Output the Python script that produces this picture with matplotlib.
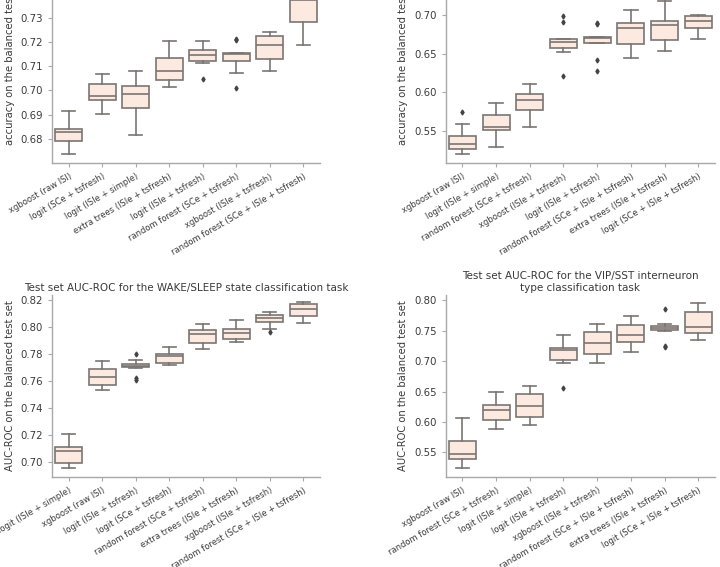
import matplotlib
matplotlib.use('Agg')
import numpy as np
import matplotlib.pyplot as plt

plt.rcParams['font.family'] = 'DejaVu Sans'
plt.rcParams['font.size'] = 7

# ---- top left: accuracy (task title cut off) ----
tl_labels = ['xgboost (raw ISI)', 'logit (SCe + tsfresh)', 'logit (ISIe + simple)',
             'extra trees (ISIe + tsfresh)', 'logit (ISIe + tsfresh)',
             'random forest (SCe + tsfresh)', 'xgboost (ISIe + tsfresh)',
             'random forest (SCe + ISIe + tsfresh)']
tl_lo = [0.6738, 0.6902, 0.6817, 0.7015, 0.7111, 0.7073, 0.7080, 0.7186]
tl_q1 = [0.6789, 0.6960, 0.6929, 0.7044, 0.7120, 0.7122, 0.7128, 0.7283]
tl_med = [0.6829, 0.6978, 0.6985, 0.7080, 0.7146, 0.7151, 0.7186, 0.7372]
tl_q3 = [0.6841, 0.7025, 0.7018, 0.7135, 0.7165, 0.7155, 0.7224, 0.7430]
tl_hi = [0.6914, 0.7066, 0.7078, 0.7205, 0.7202, 0.7155, 0.7241, 0.7510]
tl_fliers = [[], [], [], [], [0.7045], [0.7213, 0.7209, 0.7008], [], []]

# ---- top right: accuracy (task title cut off) ----
tr_labels = ['xgboost (raw ISI)', 'logit (ISIe + simple)', 'random forest (SCe + tsfresh)',
             'xgboost (ISIe + tsfresh)', 'logit (ISIe + tsfresh)',
             'random forest (SCe + ISIe + tsfresh)', 'extra trees (ISIe + tsfresh)',
             'logit (SCe + ISIe + tsfresh)']
tr_lo = [0.5202, 0.5297, 0.5557, 0.6529, 0.6637, 0.6443, 0.6542, 0.6693]
tr_q1 = [0.5267, 0.5513, 0.5773, 0.6572, 0.6646, 0.6624, 0.6680, 0.6831]
tr_med = [0.5332, 0.5557, 0.5898, 0.6659, 0.6702, 0.6840, 0.6875, 0.6931]
tr_q3 = [0.5436, 0.5708, 0.5980, 0.6693, 0.6719, 0.6905, 0.6931, 0.6996]
tr_hi = [0.5591, 0.5868, 0.6105, 0.6693, 0.6719, 0.7069, 0.7185, 0.7004]
tr_fliers = [[0.5751], [], [], [0.6991, 0.6918, 0.6213], [0.6905, 0.6883, 0.6421, 0.6283],
             [], [], []]

# ---- bottom left: AUC-ROC WAKE/SLEEP ----
bl_labels = ['logit (ISIe + simple)', 'xgboost (raw ISI)', 'logit (ISIe + tsfresh)',
             'logit (SCe + tsfresh)', 'random forest (SCe + tsfresh)',
             'extra trees (ISIe + tsfresh)', 'xgboost (ISIe + tsfresh)',
             'random forest (SCe + ISIe + tsfresh)']
bl_lo = [0.6951, 0.7531, 0.7694, 0.7716, 0.7840, 0.7891, 0.7990, 0.8032]
bl_q1 = [0.6993, 0.7573, 0.7704, 0.7738, 0.7884, 0.7914, 0.8040, 0.8081]
bl_med = [0.7080, 0.7632, 0.7711, 0.7785, 0.7951, 0.7958, 0.8069, 0.8138]
bl_q3 = [0.7110, 0.7691, 0.7728, 0.7798, 0.7978, 0.7988, 0.8089, 0.8173]
bl_hi = [0.7207, 0.7746, 0.7760, 0.7854, 0.8025, 0.8057, 0.8114, 0.8188]
bl_fliers = [[], [], [0.7805, 0.7625, 0.7605], [], [], [], [0.7965], []]

# ---- bottom right: AUC-ROC VIP/SST ----
br_labels = ['xgboost (raw ISI)', 'random forest (SCe + tsfresh)', 'logit (ISIe + simple)',
             'logit (ISIe + tsfresh)', 'xgboost (ISIe + tsfresh)',
             'random forest (SCe + ISIe + tsfresh)', 'extra trees (ISIe + tsfresh)',
             'logit (SCe + ISIe + tsfresh)']
br_lo = [0.5237, 0.5890, 0.5956, 0.6964, 0.6975, 0.7156, 0.7500, 0.7353]
br_q1 = [0.5395, 0.6038, 0.6088, 0.7019, 0.7123, 0.7310, 0.7512, 0.7463]
br_med = [0.5474, 0.6203, 0.6258, 0.7178, 0.7293, 0.7425, 0.7545, 0.7562]
br_q3 = [0.5684, 0.6274, 0.6460, 0.7216, 0.7474, 0.7600, 0.7584, 0.7803]
br_hi = [0.6066, 0.6488, 0.6597, 0.7436, 0.7611, 0.7742, 0.7611, 0.7951]
br_fliers = [[], [], [], [0.6559], [], [], [0.7863, 0.7233, 0.7255], []]

fill = '#fce9df'
edge = '#7a7573'
spine_col = '#a8a8a8'
text_col = '#3a3a3a'


def draw(ax, labels, lo, q1, med, q3, hi, fliers, ylim, ylabel, title=None):
    stats = []
    for i in range(len(labels)):
        stats.append({'whislo': lo[i], 'q1': q1[i], 'med': med[i], 'q3': q3[i],
                      'whishi': hi[i], 'fliers': np.array(fliers[i])})
    ax.bxp(stats, positions=range(len(labels)), widths=0.8, capwidths=0.4,
           patch_artist=True, showfliers=True,
           boxprops=dict(facecolor=fill, edgecolor=edge, linewidth=1.2),
           medianprops=dict(color=edge, linewidth=1.2),
           whiskerprops=dict(color=edge, linewidth=1.2),
           capprops=dict(color=edge, linewidth=1.2),
           flierprops=dict(marker='d', markersize=2.5, markerfacecolor='#444444',
                           markeredgecolor='#444444'))
    ax.set_xlim(-0.5, len(labels) - 0.5)
    ax.set_ylim(*ylim)
    ax.set_xticks(range(len(labels)))
    ax.tick_params(colors=spine_col, length=3, width=0.8)
    ax.set_xticklabels(labels, rotation=30, ha='right', rotation_mode='anchor',
                       fontsize=6.0, color=text_col)
    ax.tick_params(axis='y', labelsize=7.3, labelcolor=text_col)
    ax.set_ylabel(ylabel, fontsize=7.2, color=text_col)
    for s in ['top', 'right']:
        ax.spines[s].set_visible(False)
    for s in ['left', 'bottom']:
        ax.spines[s].set_color(spine_col)
        ax.spines[s].set_linewidth(1.0)
    if title:
        ax.set_title(title, fontsize=7.5, color=text_col, pad=3)


fig = plt.figure(figsize=(7.2, 5.67), dpi=100)

ax1 = fig.add_axes([0.0722, 0.7125, 0.3722, 0.3633])
draw(ax1, tl_labels, tl_lo, tl_q1, tl_med, tl_q3, tl_hi, tl_fliers,
     (0.670, 0.755), 'accuracy on the balanced test set')
ax1.set_yticks([0.68, 0.69, 0.70, 0.71, 0.72, 0.73, 0.74, 0.75])

ax2 = fig.add_axes([0.6188, 0.7125, 0.3743, 0.3633])
draw(ax2, tr_labels, tr_lo, tr_q1, tr_med, tr_q3, tr_hi, tr_fliers,
     (0.5085, 0.7755), 'accuracy on the balanced test set')
ax2.set_yticks([0.55, 0.60, 0.65, 0.70, 0.75])

ax3 = fig.add_axes([0.0722, 0.1593, 0.3722, 0.3205])
draw(ax3, bl_labels, bl_lo, bl_q1, bl_med, bl_q3, bl_hi, bl_fliers,
     (0.689, 0.824), 'AUC-ROC on the balanced test set',
     'Test set AUC-ROC for the WAKE/SLEEP state classification task')
ax3.set_yticks([0.70, 0.72, 0.74, 0.76, 0.78, 0.80, 0.82])

ax4 = fig.add_axes([0.6188, 0.1593, 0.3743, 0.3205])
draw(ax4, br_labels, br_lo, br_q1, br_med, br_q3, br_hi, br_fliers,
     (0.5101, 0.8087), 'AUC-ROC on the balanced test set',
     'Test set AUC-ROC for the VIP/SST interneuron\ntype classification task')
ax4.set_yticks([0.55, 0.60, 0.65, 0.70, 0.75, 0.80])

fig.savefig('out.png', dpi=100)
